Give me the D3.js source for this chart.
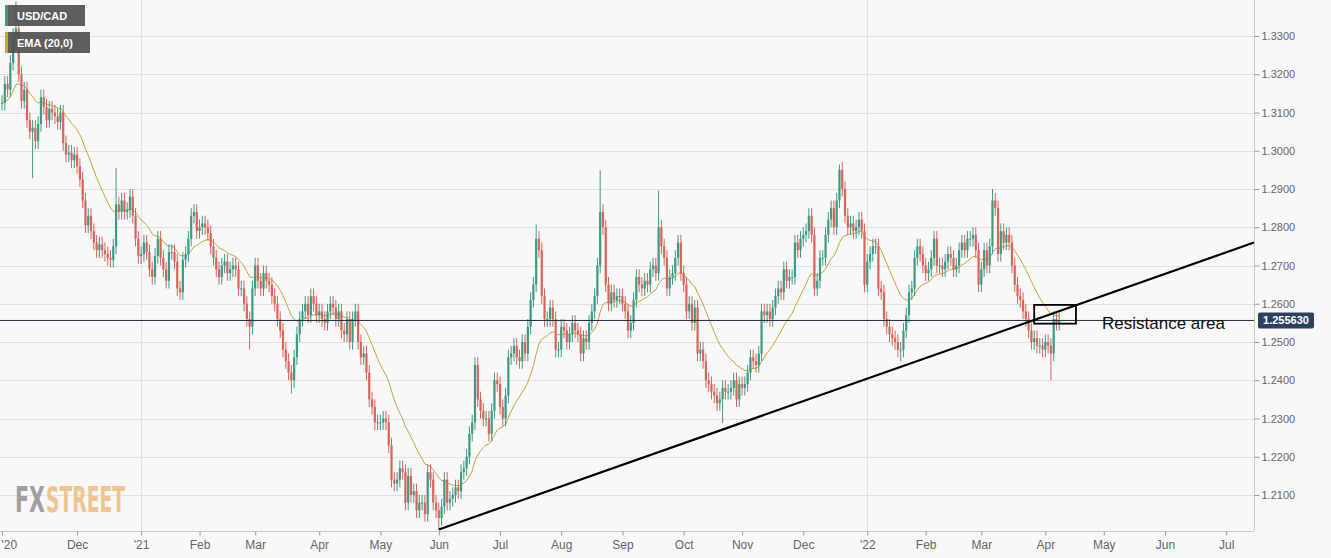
<!DOCTYPE html>
<html>
<head>
<meta charset="utf-8">
<script src="https://cdn.jsdelivr.net/npm/d3@7"></script>
<style>
    body { margin: 0; background: #f8f8f8; }
    svg { display: block; font-family: 'Liberation Sans', Arial, sans-serif; }
</style>
</head>
<body>
<svg id="chart" width="1331" height="558"></svg>
<script>
'use strict';

// daily closes, trading days from 2020-10-23, week by week
var closes = [
    1.3125, 1.3175, 1.3160, 1.3230, 1.3300, 1.3320,
    1.3200, 1.3130, 1.3160, 1.3080, 1.3050,
    1.3060, 1.3025, 1.3070, 1.3140, 1.3115,
    1.3080, 1.3110, 1.3100, 1.3090, 1.3075,
    1.3100, 1.3020, 1.2990, 1.2995, 1.2975,
    1.2990, 1.2960, 1.2925, 1.2870, 1.2805,
    1.2830, 1.2790, 1.2760, 1.2740, 1.2755,
    1.2740, 1.2730, 1.2720, 1.2715, 1.2750,
    1.2860, 1.2840, 1.2870, 1.2840, 1.2845,
    1.2880, 1.2830, 1.2770, 1.2725, 1.2730,
    1.2760, 1.2735, 1.2690, 1.2670, 1.2725,
    1.2770, 1.2720, 1.2690, 1.2660, 1.2735,
    1.2735, 1.2710, 1.2640, 1.2630, 1.2715,
    1.2730, 1.2770, 1.2830, 1.2840, 1.2790,
    1.2800, 1.2810, 1.2800, 1.2785, 1.2750,
    1.2720, 1.2690, 1.2670, 1.2700, 1.2710,
    1.2680, 1.2690, 1.2700, 1.2690, 1.2640,
    1.2640, 1.2600, 1.2560, 1.2540, 1.2640,
    1.2700, 1.2660, 1.2640, 1.2680, 1.2660,
    1.2650, 1.2620, 1.2600, 1.2560, 1.2530,
    1.2480, 1.2450, 1.2420, 1.2400, 1.2460,
    1.2520, 1.2560, 1.2580, 1.2600, 1.2570,
    1.2620, 1.2600, 1.2570, 1.2580, 1.2560,
    1.2550, 1.2580, 1.2600, 1.2590, 1.2560,
    1.2580, 1.2530, 1.2520, 1.2560, 1.2500,
    1.2560, 1.2580, 1.2500, 1.2460, 1.2470,
    1.2420, 1.2350, 1.2330, 1.2290, 1.2290,
    1.2290, 1.2300, 1.2290, 1.2230, 1.2140,
    1.2130, 1.2140, 1.2170, 1.2160, 1.2080,
    1.2150, 1.2100, 1.2110, 1.2060, 1.2080,
    1.2080, 1.2050, 1.2160, 1.2140, 1.2080,
    1.2060, 1.2040, 1.2070, 1.2140, 1.2080,
    1.2090, 1.2100, 1.2120, 1.2110, 1.2160,
    1.2170, 1.2200, 1.2260, 1.2290, 1.2440,
    1.2350, 1.2320, 1.2300, 1.2300, 1.2260,
    1.2320, 1.2400, 1.2390, 1.2330, 1.2300,
    1.2360, 1.2460, 1.2470, 1.2490, 1.2460,
    1.2450, 1.2500, 1.2470, 1.2540, 1.2610,
    1.2650, 1.2770, 1.2740, 1.2620, 1.2560,
    1.2560, 1.2590, 1.2560, 1.2480, 1.2480,
    1.2540, 1.2530, 1.2500, 1.2520, 1.2550,
    1.2530, 1.2520, 1.2470, 1.2510, 1.2500,
    1.2550, 1.2580, 1.2620, 1.2700, 1.2840,
    1.2800, 1.2650, 1.2600, 1.2630, 1.2610,
    1.2620, 1.2620, 1.2600, 1.2580, 1.2530,
    1.2550, 1.2610, 1.2670, 1.2650, 1.2640,
    1.2660, 1.2650, 1.2690, 1.2700, 1.2680,
    1.2800, 1.2750, 1.2720, 1.2640, 1.2670,
    1.2680, 1.2720, 1.2760, 1.2680, 1.2650,
    1.2580, 1.2600, 1.2550, 1.2590, 1.2470,
    1.2480, 1.2450, 1.2400, 1.2390, 1.2370,
    1.2360, 1.2340, 1.2350, 1.2380, 1.2370,
    1.2370, 1.2380, 1.2400, 1.2350, 1.2390,
    1.2380, 1.2390, 1.2420, 1.2460, 1.2450,
    1.2440, 1.2470, 1.2580, 1.2570, 1.2580,
    1.2560, 1.2590, 1.2620, 1.2640, 1.2630,
    1.2690, 1.2660, 1.2670, 1.2670, 1.2760,
    1.2740, 1.2770, 1.2780, 1.2790, 1.2830,
    1.2780, 1.2640, 1.2660, 1.2720, 1.2720,
    1.2780, 1.2820, 1.2850, 1.2800, 1.2870,
    1.2950, 1.2900, 1.2830, 1.2800, 1.2810,
    1.2790, 1.2800, 1.2820, 1.2790, 1.2650,
    1.2710, 1.2730, 1.2750, 1.2750, 1.2640,
    1.2630, 1.2560, 1.2540, 1.2520, 1.2510,
    1.2500, 1.2480, 1.2480, 1.2530, 1.2570,
    1.2630, 1.2640, 1.2720, 1.2750, 1.2730,
    1.2700, 1.2680, 1.2690, 1.2720, 1.2770,
    1.2700, 1.2700, 1.2690, 1.2710, 1.2730,
    1.2720, 1.2690, 1.2700, 1.2740, 1.2760,
    1.2740, 1.2770, 1.2770, 1.2780, 1.2740,
    1.2650, 1.2690, 1.2740, 1.2700, 1.2750,
    1.2870, 1.2850, 1.2730, 1.2790, 1.2760,
    1.2780, 1.2760, 1.2700, 1.2650, 1.2620,
    1.2610, 1.2580, 1.2560, 1.2530, 1.2500,
    1.2510, 1.2490, 1.2490, 1.2480, 1.2500,
    1.2490, 1.2470, 1.2560, 1.2550, 1.255630
];

// notable wick extremes: [day index, high, low]
var extremes = [
    [5, 1.3390, null], [11, null, 1.2928], [41, 1.2955, null],
    [89, null, 1.2480], [104, null, 1.2365], [157, null, 1.2010],
    [192, 1.2807, null], [215, 1.2949, null], [236, 1.2896, null],
    [259, null, 1.2288], [301, 1.2964, null], [323, null, 1.2450],
    [356, 1.2900, null], [377, null, 1.2400]
];

var firstDay = new Date(2020, 9, 23);
var priceTicks = [1.21, 1.22, 1.23, 1.24, 1.25, 1.26, 1.27, 1.28, 1.29, 1.30, 1.31, 1.32, 1.33];
var trendLine = [[157, 1.2010], [450, 1.2760]];
var resistanceBox = { i0: 371, i1: 386, top: 1.2597, bottom: 1.2548 };
var lastPrice = 1.255630;
var emaPeriod = 20;

var width = 1331,
    height = 558,
    plotRight = 1254,
    plotBottom = 531,
    upColor = '#3f9a84',
    downColor = '#d9645a',
    emaColor = '#c4a43a';

// trading days (weekdays) from the first candle to the right edge
var days = [],
    d = new Date(firstDay);
while (days.length < 452) {
    if (d.getDay() !== 0 && d.getDay() !== 6) {
        days.push(new Date(d));
    }
    d.setDate(d.getDate() + 1);
}

var x = d3.scaleLinear().domain([0, 450]).range([2, plotRight]),
    y = d3.scaleLinear().domain([1.2, 1.33]).range([533.25, 36]);

var wick = 0.002,
    candles = closes.map(function (c, i) {
        var o = i ? closes[i - 1] : c;
        return { i: i, o: o, c: c, h: Math.max(o, c) + wick, l: Math.min(o, c) - wick };
    });
extremes.forEach(function (e) {
    if (e[1] !== null) { candles[e[0]].h = e[1]; }
    if (e[2] !== null) { candles[e[0]].l = e[2]; }
});

var ema = [],
    k = 2 / (emaPeriod + 1);
closes.forEach(function (c, i) {
    ema.push(i ? c * k + ema[i - 1] * (1 - k) : c);
});

var svg = d3.select('#chart');

svg.append('rect').attr('width', width).attr('height', height).attr('fill', '#f8f8f8');

// grid
svg.append('g').selectAll('line').data(priceTicks).enter().append('line')
    .attr('x1', 0).attr('x2', plotRight)
    .attr('y1', function (p) { return Math.round(y(p)) + 0.5; })
    .attr('y2', function (p) { return Math.round(y(p)) + 0.5; })
    .attr('stroke', '#e1e1e1');

// month ticks: first trading day of each month (first partial month skipped)
var monthTicks = [];
days.forEach(function (dd, i) {
    if (i > 0 && dd.getMonth() !== days[i - 1].getMonth()) {
        monthTicks.push(i);
    }
});
monthTicks.shift();
function monthLabel(i) {
    var dd = days[i];
    return dd.getMonth() === 0 ? "'" + String(dd.getFullYear()).slice(2) : d3.timeFormat('%b')(dd);
}
svg.append('g').selectAll('line').data(monthTicks.filter(function (i) { return days[i].getMonth() === 0; }))
    .enter().append('line')
    .attr('x1', function (i) { return Math.round(x(i)) + 0.5; })
    .attr('x2', function (i) { return Math.round(x(i)) + 0.5; })
    .attr('y1', 0).attr('y2', plotBottom)
    .attr('stroke', '#e1e1e1');

// watermark
[['FX', '#a0a0a0', 15, 30], ['STREET', '#efc48e', 46, 79]].forEach(function (w) {
    svg.append('text').attr('x', w[2]).attr('y', 512)
        .attr('textLength', w[3]).attr('lengthAdjust', 'spacingAndGlyphs')
        .style('font-family', "'Liberation Sans Narrow', 'DejaVu Sans Condensed', sans-serif")
        .style('font-weight', 'bold').style('font-size', '36px')
        .attr('fill', w[1]).text(w[0]);
});

// EMA
svg.append('path').datum(ema)
    .attr('fill', 'none').attr('stroke', emaColor).attr('stroke-width', 1)
    .attr('d', d3.line().x(function (v, i) { return x(i); }).y(function (v) { return y(v); }));

// candles
var cg = svg.append('g').selectAll('g').data(candles).enter().append('g');
cg.append('line')
    .attr('x1', function (c) { return x(c.i); }).attr('x2', function (c) { return x(c.i); })
    .attr('y1', function (c) { return y(c.h); }).attr('y2', function (c) { return y(c.l); })
    .attr('stroke', function (c) { return c.c >= c.o ? upColor : downColor; })
    .attr('stroke-width', 1);
cg.append('rect')
    .attr('x', function (c) { return x(c.i) - 1.1; })
    .attr('width', 2.2)
    .attr('y', function (c) { return y(Math.max(c.o, c.c)); })
    .attr('height', function (c) { return Math.max(1, Math.abs(y(c.o) - y(c.c))); })
    .attr('fill', function (c) { return c.c >= c.o ? upColor : downColor; });

// last price line
svg.append('line').attr('x1', 0).attr('x2', plotRight)
    .attr('y1', y(lastPrice)).attr('y2', y(lastPrice))
    .attr('stroke', '#1f2d3d').attr('stroke-width', 1);

// trend line
svg.append('line')
    .attr('x1', x(trendLine[0][0])).attr('y1', y(trendLine[0][1]))
    .attr('x2', x(trendLine[1][0])).attr('y2', y(trendLine[1][1]))
    .attr('stroke', '#000').attr('stroke-width', 2.2);

// resistance area
svg.append('rect')
    .attr('x', x(resistanceBox.i0)).attr('y', y(resistanceBox.top))
    .attr('width', x(resistanceBox.i1) - x(resistanceBox.i0))
    .attr('height', y(resistanceBox.bottom) - y(resistanceBox.top))
    .attr('fill', 'none').attr('stroke', '#000').attr('stroke-width', 1.8);
svg.append('text').attr('x', 1102).attr('y', 329)
    .style('font-size', '17px').attr('fill', '#111').text('Resistance area');

// right axis
var yAxis = svg.append('g').attr('transform', 'translate(' + (plotRight + 0.5) + ',0)')
    .call(d3.axisRight(y).tickValues(priceTicks).tickSize(5).tickFormat(d3.format('.4f')));
yAxis.select('.domain').attr('stroke', '#c8c8c8').attr('d', 'M0,0V' + plotBottom);
yAxis.selectAll('.tick line').attr('stroke', '#999');
yAxis.selectAll('.tick text').attr('fill', '#666').style('font-size', '11px').attr('x', 7);

// price badge
svg.append('rect').attr('x', 1258).attr('y', y(lastPrice) - 8).attr('width', 56).attr('height', 16)
    .attr('rx', 2).attr('fill', '#2b4160');
svg.append('text').attr('x', 1286).attr('y', y(lastPrice) + 4).attr('text-anchor', 'middle')
    .attr('fill', '#fff').style('font-size', '11px').style('font-weight', 'bold').text(d3.format('.6f')(lastPrice));

// bottom axis
var xAxis = svg.append('g').attr('transform', 'translate(0,' + (plotBottom + 0.5) + ')')
    .call(d3.axisBottom(x).tickValues([0].concat(monthTicks)).tickSize(4)
        .tickFormat(function (i) { return i === 0 ? "'20" : monthLabel(i); }));
xAxis.select('.domain').attr('stroke', '#c8c8c8').attr('d', 'M0,0H' + plotRight);
xAxis.selectAll('.tick line').attr('stroke', '#999');
xAxis.selectAll('.tick text').attr('fill', '#666').style('font-size', '12px').attr('y', 9);
xAxis.selectAll('.tick').filter(function (i) { return i === 0; }).select('text')
    .attr('text-anchor', 'start').attr('x', -1);
svg.append('rect').attr('x', plotRight + 1).attr('y', plotBottom + 1).attr('width', 80).attr('height', 30).attr('fill', '#f8f8f8');

// legend
[['USD/CAD', upColor, 80], ['EMA (20,0)', emaColor, 85]].forEach(function (l, n) {
    var g = svg.append('g').attr('transform', 'translate(5,' + (5 + n * 27) + ')');
    g.append('rect').attr('width', l[2]).attr('height', 21).attr('fill', '#505050').attr('opacity', 0.92);
    g.append('rect').attr('width', 3).attr('height', 21).attr('fill', l[1]);
    g.append('text').attr('x', 12).attr('y', 15).attr('fill', '#fff')
        .style('font-size', '11px').style('font-weight', 'bold').text(l[0]);
});
</script>
</body>
</html>
